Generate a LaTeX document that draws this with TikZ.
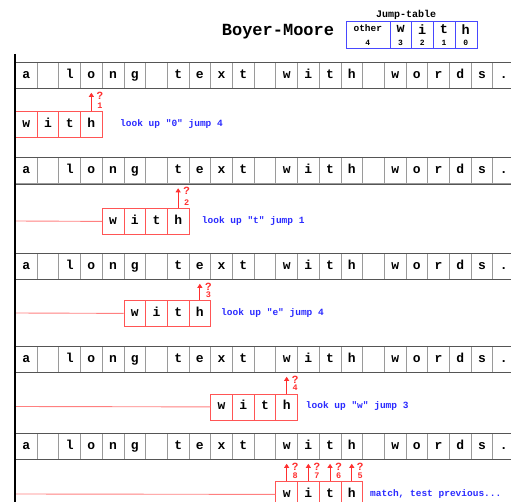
\documentclass[tikz,border=0pt]{standalone}
\usepackage{fontspec}
\setmonofont{Liberation Mono}
\usetikzlibrary{arrows.meta}
\definecolor{tgray}{HTML}{9A9A9A}
\definecolor{tdark}{HTML}{555555}
\definecolor{pred}{HTML}{FF5555}
\definecolor{lred}{HTML}{FF8080}
\definecolor{qred}{HTML}{FF3030}
\definecolor{lblue}{HTML}{2A2AFF}
\definecolor{tblue}{HTML}{4848FF}
\tikzset{
  cellbase/.style={minimum width=21.7pt, minimum height=26pt, inner sep=0pt, anchor=north west,
    text height=8pt, text depth=2pt, font=\ttfamily\bfseries\fontsize{13}{13}\selectfont},
  tcell/.style={cellbase, draw=tgray, line width=0.8pt},
  pcell/.style={cellbase, draw=pred, line width=0.8pt},
  rowline/.style={draw=tdark, line width=0.9pt},
  arr/.style={draw=qred, line width=0.8pt, shorten >=4pt, -{Triangle[length=4pt,width=5pt]}},
  qm/.style={text=qred, inner sep=0pt, text height=7pt, text depth=0pt, font=\ttfamily\bfseries\fontsize{11}{11}\selectfont},
  qn/.style={text=qred, inner sep=0pt, text height=5.5pt, text depth=0pt, font=\ttfamily\bfseries\fontsize{8.5}{8.5}\selectfont},
  blab/.style={text=lblue, inner sep=0pt, anchor=west, font=\ttfamily\bfseries\fontsize{9.5}{9.5}\selectfont},
  jcell/.style={draw=tblue, line width=1pt, minimum height=27pt, inner sep=0pt, anchor=north west},
  jlet/.style={inner sep=0pt, font=\ttfamily\bfseries\fontsize{13.5}{13.5}\selectfont},
  jnum/.style={inner sep=0pt, font=\ttfamily\bfseries\fontsize{8}{8}\selectfont},
}
\begin{document}
\begin{tikzpicture}[x=1pt,y=-1pt]
\clip (0,0) rectangle (511,502);
\fill[white] (0,0) rectangle (511,502);
% title and jump table
\node[inner sep=0pt, font=\ttfamily\bfseries\fontsize{17}{17}\selectfont] (title) at (278,31.7) {Boyer-Moore};
\node[inner sep=0pt, font=\ttfamily\bfseries\fontsize{10}{10}\selectfont] (jt) at (406,15) {Jump-table};
\node[jcell, minimum width=43.7pt] (jo) at (346,20.7) {};
\node[inner sep=0pt, font=\ttfamily\bfseries\fontsize{9.5}{9.5}\selectfont] (jot) at (367.8,28.3) {other};
\node[jnum] (jon) at (367.8,43) {4};
\foreach \c/\v [count=\i from 0] in {w/3,i/2,t/1,h/0}{
  \node[jcell, minimum width=21.7pt] (jc\i) at ({389.7+\i*21.7},20.7) {};
  \node[jlet] (jl\i) at ({400.55+\i*21.7},29.3) {\c};
  \node[jnum] (jn\i) at ({400.55+\i*21.7},43) {\v};
}
% text rows
\foreach \s/\T in {1/62,2/157.5,3/253,4/346,5/433}{
  \foreach \c [count=\i from 0] in {a,{},l,o,n,g,{},t,e,x,t,{},w,i,t,h,{},w,o,r,d,s,.}{
    \node[tcell] (t\s-\i) at ({15+\i*21.7},\T) {\c};
  }
  \draw[rowline] (t\s-0.north west) -- (t\s-22.north east);
  \draw[rowline] (t\s-0.south west) -- (t\s-22.south east);
}
% pattern rows
\foreach \s/\P/\k in {1/111.5/0,2/208/4,3/300/5,4/393.5/9,5/481/12}{
  \foreach \c [count=\j from 0] in {w,i,t,h}{
    \node[pcell] (p\s-\j) at ({15+(\k+\j)*21.7},\P) {\c};
  }
}
\foreach \s/\P in {2/208,3/300,4/393.5,5/481}{
  \coordinate (l\s) at (15,\P+13);
  \draw[draw=lred, line width=0.9pt] (l\s) -- (p\s-0.west);
}
% comparison arrows
\foreach \s/\k/\j/\num in {1/0/3/1,2/4/3/2,3/5/3/3,4/9/3/4,5/12/3/5,5/12/2/6,5/12/1/7,5/12/0/8}{
  \pgfmathtruncatemacro\ti{\k+\j}
  \draw[arr] (p\s-\j.north) -- (t\s-\ti.south);
  \node[qm] (q\num) at ([xshift=8.5pt,yshift=-7pt]t\s-\ti.south) {?};
  \node[qn] (n\num) at ([xshift=8.5pt,yshift=5.5pt]p\s-\j.north) {\num};
}
% left rule
\coordinate (vtop) at (15,54);
\coordinate (vbot) at (15,502);
\draw[line width=1.6pt] (vtop) -- (vbot);
% blue labels
\node[blab] (b1) at (120,124.5) {look up "0" jump 4};
\node[blab] (b2) at (201.7,221) {look up "t" jump 1};
\node[blab] (b3) at (221,313) {look up "e" jump 4};
\node[blab] (b4) at (305.7,406.5) {look up "w" jump 3};
\node[blab] (b5) at (370,494) {match, test previous...};
\end{tikzpicture}
\end{document}
